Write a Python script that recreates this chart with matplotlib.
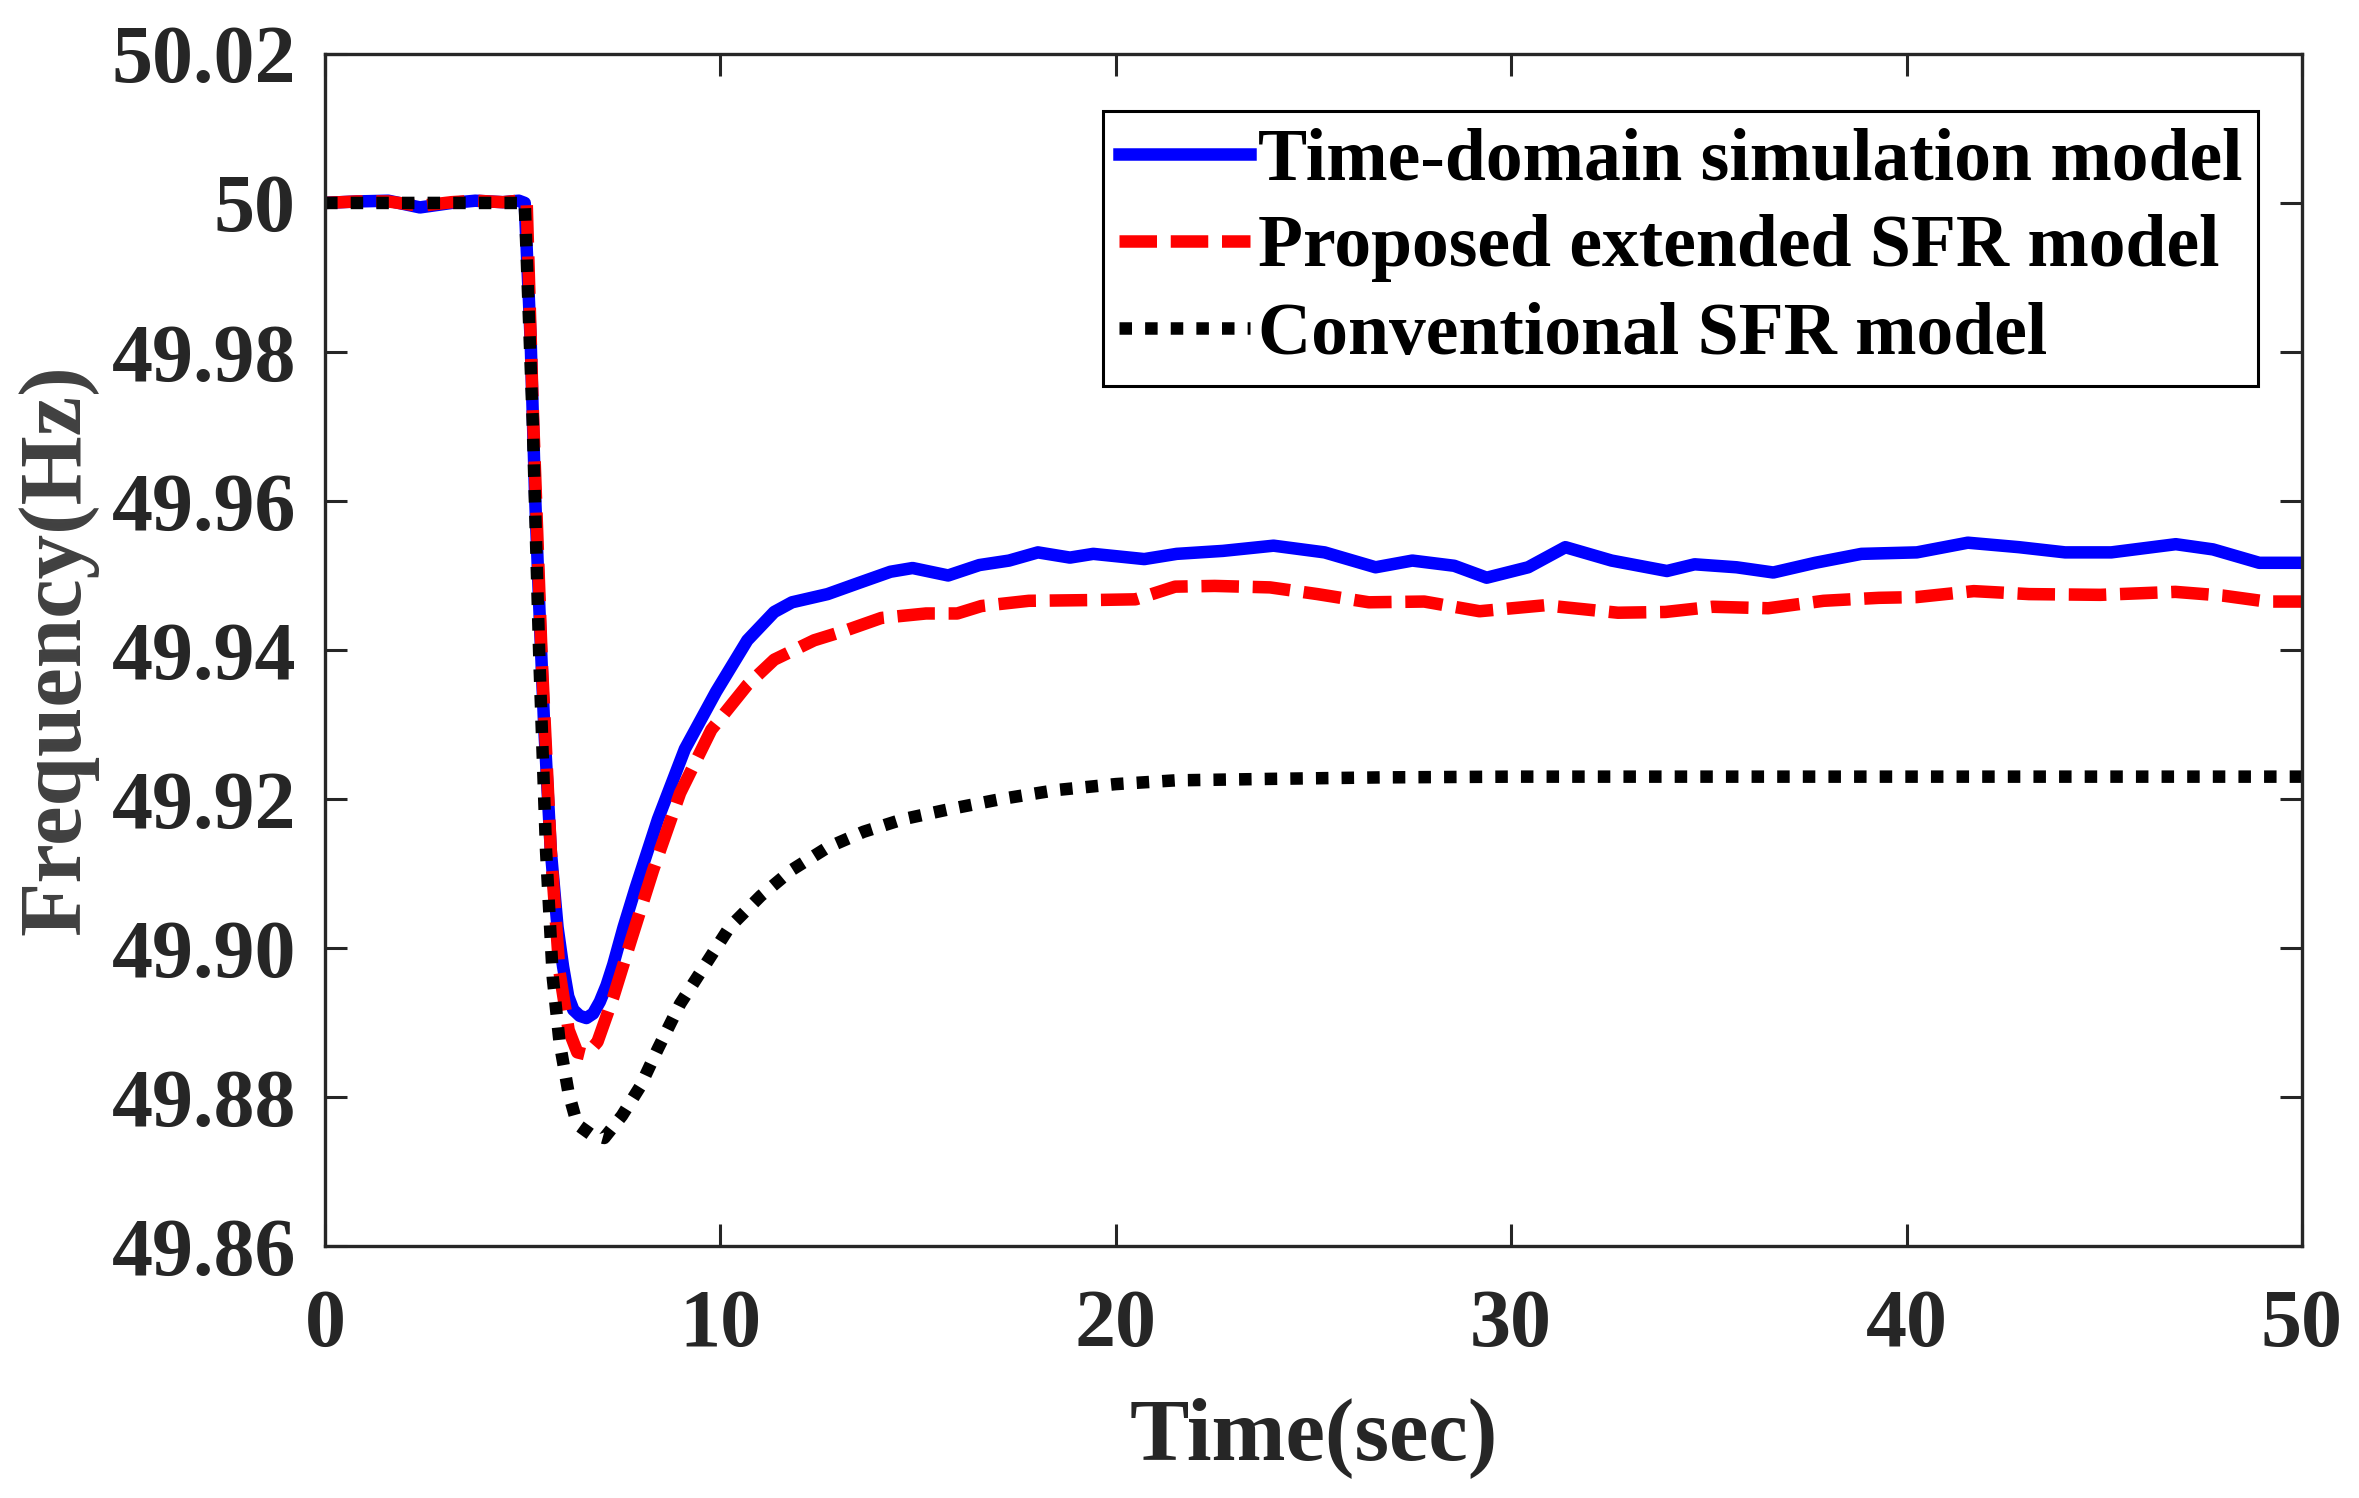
import matplotlib
matplotlib.use('Agg')
import matplotlib.pyplot as plt

# Time-domain simulation model (blue)
t_sim = [0, 0.8, 1.6, 2.4, 3.2, 3.8, 4.5, 4.9, 5.05, 5.2, 5.31, 5.42, 5.54, 5.71, 5.88,
         6.02, 6.15, 6.28, 6.44, 6.61, 6.78, 6.95, 7.12, 7.29, 7.55, 7.85, 8.42, 9.10, 9.89,
         10.68, 11.36, 11.81, 12.71, 13.50, 14.30, 14.86, 15.76, 16.55, 17.3, 18.03, 18.84,
         19.43, 20.72, 21.54, 22.71, 23.99, 25.28, 26.57, 27.50, 28.56, 29.38, 30.43, 31.37,
         32.54, 33.94, 34.64, 35.70, 36.63, 37.69, 38.86, 40.26, 41.55, 42.84, 44.01, 45.18,
         46.81, 47.75, 48.92, 50.0]
f_sim = [50.0000, 50.0002, 50.0003, 49.9994, 50.0000, 50.0003, 50.0001, 50.0003, 50.0000,
         49.9815, 49.9610, 49.9456, 49.9300, 49.9130, 49.9028, 49.8975, 49.8935, 49.8917,
         49.8909, 49.8906, 49.8912, 49.8928, 49.8950, 49.8978, 49.9028, 49.9080, 49.9173,
         49.9267, 49.9344, 49.9413, 49.9451, 49.9464, 49.9475, 49.9490, 49.9505, 49.9510,
         49.9500, 49.9514, 49.9520, 49.9531, 49.9524, 49.9529, 49.9522, 49.9529, 49.9533,
         49.9540, 49.9531, 49.9511, 49.9520, 49.9513, 49.9497, 49.9511, 49.9538, 49.9520,
         49.9506, 49.9515, 49.9511, 49.9504, 49.9517, 49.9529, 49.9531, 49.9544, 49.9538,
         49.9531, 49.9531, 49.9542, 49.9535, 49.9517, 49.9517]

# Proposed extended SFR model (red)
t_ext = [0, 0.8, 1.6, 2.4, 3.2, 3.8, 4.5, 4.9, 5.1, 5.25, 5.48, 5.71, 5.93, 6.16, 6.38,
         6.61, 6.89, 7.29, 7.74, 8.30, 8.98, 9.77, 10.68, 11.36, 12.37, 13.16, 14.07, 15.2,
         15.99, 16.6, 17.8, 19.4, 20.5, 21.5, 22.5, 23.9, 25.1, 26.4, 27.8, 29.2, 30.85,
         32.7, 33.9, 35.1, 36.5, 37.9, 39.3, 40.26, 41.7, 43.1, 44.9, 46.8, 48.0, 49.1, 50.0]
f_ext = [50.0000, 50.0002, 50.0002, 49.9996, 50.0001, 50.0003, 50.0001, 50.0003, 50.0000,
         49.9730, 49.9387, 49.9130, 49.8968, 49.8890, 49.8860, 49.8857, 49.8874, 49.8934,
         49.9011, 49.9105, 49.9208, 49.9293, 49.9353, 49.9387, 49.9413, 49.9426, 49.9443,
         49.9449, 49.9449, 49.9459, 49.9466, 49.9467, 49.9468, 49.9485, 49.9486, 49.9484,
         49.9475, 49.9464, 49.9465, 49.9452, 49.9460, 49.9450, 49.9451, 49.9458, 49.9456,
         49.9466, 49.9470, 49.9471, 49.9479, 49.9475, 49.9474, 49.9478, 49.9473, 49.9465,
         49.9465]

# Conventional SFR model (black)
t_conv = [0, 5.05, 5.25, 5.42, 5.59, 5.76, 5.93, 6.16, 6.38, 6.72, 7.06, 7.51, 7.97, 8.42,
          8.98, 9.55, 10.23, 11.02, 11.81, 12.71, 13.62, 14.63, 15.76, 17.1, 18.5, 20.0,
          21.5, 23.9, 26.7, 30, 40, 50]
f_conv = [50.0, 50.0, 49.9710, 49.9387, 49.9130, 49.8960, 49.8874, 49.8805, 49.8763,
          49.8750, 49.8745, 49.8775, 49.8814, 49.8865, 49.8925, 49.8972, 49.9028, 49.9070,
          49.9105, 49.9135, 49.9156, 49.9173, 49.9186, 49.9200, 49.9212, 49.9220, 49.9225,
          49.9227, 49.9229, 49.9230, 49.9230, 49.9230]

labels = ['Time-domain simulation model', 'Proposed extended SFR model', 'Conventional SFR model']
xticks = [0, 10, 20, 30, 40, 50]
yticks = [49.86, 49.88, 49.90, 49.92, 49.94, 49.96, 49.98, 50.0, 50.02]
ytick_labels = ['49.86', '49.88', '49.90', '49.92', '49.94', '49.96', '49.98', '50', '50.02']

plt.rcParams['font.family'] = ['Liberation Serif', 'DejaVu Serif']
plt.rcParams['font.weight'] = 'bold'

fig = plt.figure(figsize=(23.59, 14.98), dpi=100)
ax = fig.add_axes([0.1378, 0.1682, 0.838, 0.7958])

lw = 9
ax.plot(t_sim, f_sim, color='#0000ff', lw=lw, label=labels[0], solid_joinstyle='round')
ax.plot(t_ext, f_ext, color='#ff0000', lw=lw, linestyle=(0, (3, 1.1)), label=labels[1],
        dash_capstyle='butt')
ax.plot(t_conv, f_conv, color='black', lw=lw, linestyle=(0, (1, 1.05)), label=labels[2],
        dash_capstyle='butt')

ax.set_xlim(0, 50)
ax.set_ylim(49.86, 50.02)
ax.set_xticks(xticks)
ax.set_yticks(yticks)
ax.set_yticklabels(ytick_labels)

dark = '#262626'
for s in ax.spines.values():
    s.set_linewidth(2.4)
    s.set_color(dark)
ax.tick_params(direction='in', length=16, width=2.2, colors=dark, labelsize=59,
               pad=21, top=True, right=True)
ax.tick_params(axis='x', pad=31)
for lab in ax.get_xticklabels() + ax.get_yticklabels():
    lab.set_fontweight('bold')

ax.set_xlabel('Time(sec)', fontsize=64, fontweight='bold', color=dark, labelpad=24)
ax.set_ylabel('Frequency(Hz)', fontsize=64, fontweight='bold', color='#404040', labelpad=9)

leg = ax.legend(loc='upper right', bbox_to_anchor=(0.978, 0.952),
                prop={'weight': 'bold', 'size': 53}, handlelength=1.78, handletextpad=0.1,
                labelspacing=0.26, borderaxespad=0, borderpad=0.22, fancybox=False,
                framealpha=1, edgecolor='black')
leg.get_frame().set_linewidth(2.2)

fig.savefig('out.png', dpi=100)
